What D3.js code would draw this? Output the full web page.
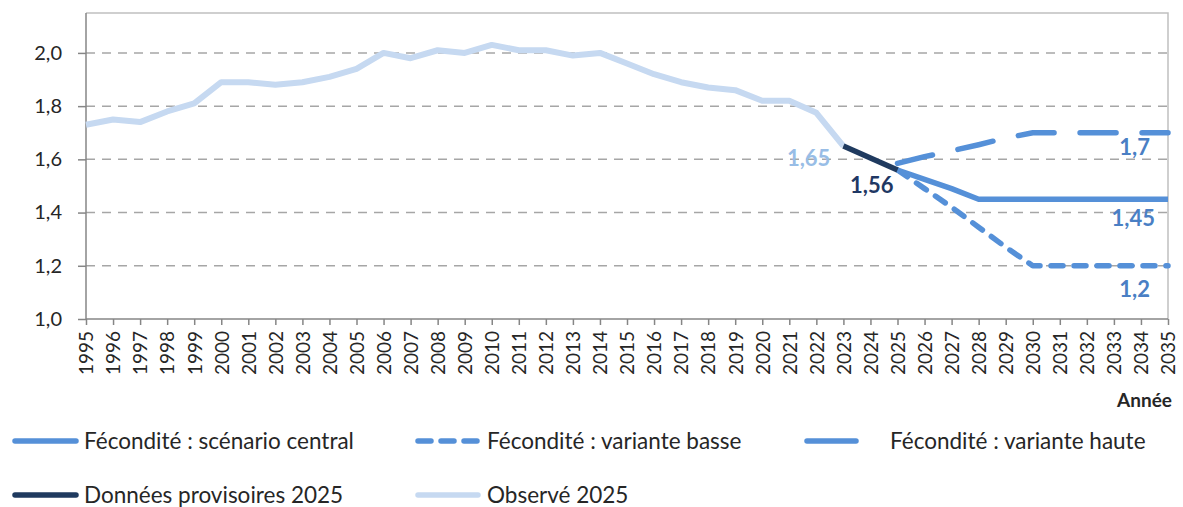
<!DOCTYPE html>
<html>
<head>
<meta charset="utf-8">
<script src="https://cdn.jsdelivr.net/npm/d3@7"></script>
<style>
  body { margin: 0; background: #fff; }
  text { font-family: Lato, "Open Sans", sans-serif; fill: #262626; }
</style>
</head>
<body>
<svg width="1183" height="507"></svg>
<script>
// years on the x axis
var years = d3.range(1995, 2036);
var yTicks = [1.0, 1.2, 1.4, 1.6, 1.8, 2.0];

// observed fertility (1995-2023)
var observedYears = d3.range(1995, 2024);
var observedVals = [1.73, 1.75, 1.74, 1.78, 1.81, 1.89, 1.89, 1.88, 1.89, 1.91,
                    1.94, 2.00, 1.98, 2.01, 2.00, 2.03, 2.01, 2.01, 1.99, 2.00,
                    1.96, 1.92, 1.89, 1.87, 1.86, 1.82, 1.82, 1.775, 1.65];
// provisional data
var provYears = [2023, 2024, 2025];
var provVals = [1.65, 1.605, 1.56];
// projections
var projYears = d3.range(2025, 2036);
var centralVals = [1.56, 1.525, 1.49, 1.45, 1.45, 1.45, 1.45, 1.45, 1.45, 1.45, 1.45];
var lowVals     = [1.56, 1.49, 1.42, 1.345, 1.27, 1.20, 1.20, 1.20, 1.20, 1.20, 1.20];
var highVals    = [1.585, 1.61, 1.632, 1.655, 1.68, 1.70, 1.70, 1.70, 1.70, 1.70, 1.70];

var svg = d3.select("svg"),
    mLeft = 86, mRight = 1168, mTop = 13, mBottom = 319;

var x = d3.scaleLinear().domain([1995, 2035]).range([mLeft, mRight]);
var y = d3.scaleLinear().domain([1.0, 2.15]).range([mBottom, mTop]);
var fmt = function(v) { return d3.format(".1f")(v).replace(".", ","); };

var cBlue = "#5590d8", cLight = "#c6d9f1", cDark = "#1f3a5f";

// frame (top & right)
svg.append("path")
    .attr("d", "M" + mLeft + "," + mTop + "H" + mRight + "V" + mBottom)
    .attr("fill", "none").attr("stroke", "#c0c0c0").attr("stroke-width", 1.5);

// grid lines
svg.append("g").selectAll("line")
    .data(yTicks.filter(function(d) { return d > 1.0; }))
  .enter().append("line")
    .attr("x1", mLeft).attr("x2", mRight)
    .attr("y1", function(d) { return y(d); }).attr("y2", function(d) { return y(d); })
    .attr("stroke", "#a6a6a6").attr("stroke-width", 1.5)
    .attr("stroke-dasharray", "9,7");

// y axis
var yAxis = svg.append("g")
    .attr("transform", "translate(" + mLeft + ",0)")
    .call(d3.axisLeft(y).tickValues(yTicks).tickFormat(fmt).tickSize(8).tickPadding(16));
yAxis.select(".domain").attr("stroke", "#868686").attr("stroke-width", 1.5)
    .attr("d", "M0," + mTop + "V" + mBottom);
yAxis.selectAll(".tick line").attr("stroke", "#868686").attr("stroke-width", 1.5);
yAxis.selectAll("text").style("font-size", "20px").attr("fill", "#262626");

// x axis
var xAxis = svg.append("g")
    .attr("transform", "translate(0," + mBottom + ")")
    .call(d3.axisBottom(x).tickValues(years).tickFormat(d3.format("d")).tickSize(6));
xAxis.select(".domain").attr("stroke", "#868686").attr("stroke-width", 1.5)
    .attr("d", "M" + mLeft + ",0H" + mRight);
xAxis.selectAll(".tick line").attr("stroke", "#868686").attr("stroke-width", 1.5);
xAxis.selectAll("text")
    .style("font-size", "19px").attr("fill", "#262626")
    .attr("text-anchor", "end")
    .attr("transform", "rotate(-90)")
    .attr("x", -12).attr("y", 0).attr("dy", "0.36em");

var line = d3.line()
    .x(function(d) { return x(d[0]); })
    .y(function(d) { return y(d[1]); });
var pairs = function(xs, vs) { return xs.map(function(d, i) { return [d, vs[i]]; }); };

var series = [
  { name: "Observé 2025", pts: pairs(observedYears, observedVals), color: cLight, dash: null, w: 6 },
  { name: "Fécondité : variante haute", pts: pairs(projYears, highVals), color: cBlue, dash: "36,26", w: 5.5 },
  { name: "Fécondité : variante basse", pts: pairs(projYears, lowVals), color: cBlue, dash: "12,11", w: 5.5 },
  { name: "Fécondité : scénario central", pts: pairs(projYears, centralVals), color: cBlue, dash: null, w: 5.5 },
  { name: "Données provisoires 2025", pts: pairs(provYears, provVals), color: cDark, dash: null, w: 5.5 }
];

svg.append("g").selectAll("path")
    .data(series)
  .enter().append("path")
    .attr("d", function(d) { return line(d.pts); })
    .attr("fill", "none")
    .attr("stroke", function(d) { return d.color; })
    .attr("stroke-width", function(d) { return d.w; })
    .attr("stroke-linejoin", "round")
    .attr("stroke-linecap", function(d) { return d.dash ? "round" : "butt"; })
    .attr("stroke-dasharray", function(d) { return d.dash; });

// data labels
var labels = [
  { year: 2023, val: 1.65, text: "1,65", color: "#98bde6", dx: -13, dy: 20 },
  { year: 2025, val: 1.56, text: "1,56", color: "#1f3864", dx: -4, dy: 23 },
  { year: 2035, val: 1.70, text: "1,7", color: "#4a7fc4", dx: -18, dy: 22 },
  { year: 2035, val: 1.45, text: "1,45", color: "#4a7fc4", dx: -13, dy: 27 },
  { year: 2035, val: 1.20, text: "1,2", color: "#4a7fc4", dx: -18, dy: 31 }
];
svg.append("g").selectAll("text")
    .data(labels)
  .enter().append("text")
    .attr("x", function(d) { return x(d.year) + d.dx; })
    .attr("y", function(d) { return y(d.val) + d.dy; })
    .attr("text-anchor", "end")
    .style("font-size", "22px").style("font-weight", "bold")
    .style("fill", function(d) { return d.color; })
    .text(function(d) { return d.text; });

// axis title
svg.append("text")
    .attr("x", 1172).attr("y", 407)
    .attr("text-anchor", "end")
    .style("font-size", "19px").style("font-weight", "bold")
    .text("Année");

// legend
var legendItems = [
  { name: "Fécondité : scénario central", color: cBlue, dash: null, x1: 15, x2: 76, tx: 84, y: 441 },
  { name: "Fécondité : variante basse", color: cBlue, dash: "13,10", x1: 418, x2: 477, tx: 487, y: 441 },
  { name: "Fécondité : variante haute", color: cBlue, dash: null, x1: 807, x2: 856, tx: 890, y: 441 },
  { name: "Données provisoires 2025", color: cDark, dash: null, x1: 15, x2: 76, tx: 84, y: 495 },
  { name: "Observé 2025", color: cLight, dash: null, x1: 418, x2: 478, tx: 487, y: 495 }
];
var lg = svg.append("g").selectAll("g")
    .data(legendItems)
  .enter().append("g");
lg.append("line")
    .attr("x1", function(d) { return d.x1; }).attr("x2", function(d) { return d.x2; })
    .attr("y1", function(d) { return d.y; }).attr("y2", function(d) { return d.y; })
    .attr("stroke", function(d) { return d.color; })
    .attr("stroke-width", 5.5).attr("stroke-linecap", "round")
    .attr("stroke-dasharray", function(d) { return d.dash; });
lg.append("text")
    .attr("x", function(d) { return d.tx; })
    .attr("y", function(d) { return d.y; })
    .attr("dy", "0.35em")
    .style("font-size", "22.5px")
    .text(function(d) { return d.name; });
</script>
</body>
</html>
